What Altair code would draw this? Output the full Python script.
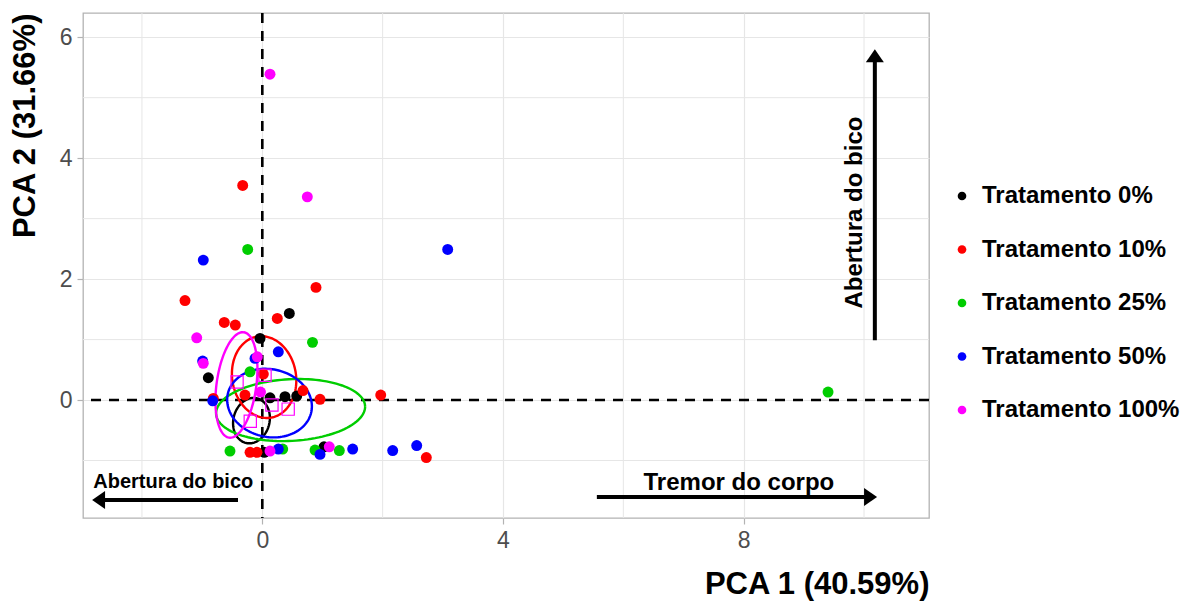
import numpy as np
import pandas as pd
import altair as alt

# Treatment groups and their colours
groups = ["Tratamento 0%", "Tratamento 10%", "Tratamento 25%", "Tratamento 50%", "Tratamento 100%"]
colors = ["#000000", "#FF0000", "#00CD00", "#0000FF", "#FF00FF"]

# Individual scores on the first two principal components
pc1_t0 = [0.449, -0.038, -0.897, 0.128, 0.377, 0.572, 0.033, 1.025]
pc2_t0 = [1.433, 1.020, 0.369, 0.038, 0.055, 0.066, -0.864, -0.772]

pc1_t10 = [-0.326, -1.285, 0.892, 0.249, -0.632, -0.449, 0.017, 0.676, -0.288, -0.814, 0.959, 1.968, -0.204, -0.088, 2.726]
pc2_t10 = [3.549, 1.645, 1.863, 1.350, 1.284, 1.240, 0.430, 0.157, 0.083, 0.028, 0.012, 0.083, -0.864, -0.864, -0.950]

pc1_t25 = [-0.243, 0.834, -0.204, 9.402, -0.537, 0.339, 0.876, 1.280]
pc2_t25 = [2.491, 0.954, 0.468, 0.132, -0.843, -0.810, -0.826, -0.835]

pc1_t50 = [-0.981, 3.081, 0.266, -0.121, -0.991, -0.824, 0.266, 0.959, 1.502, 2.167, 2.566]
pc2_t50 = [2.314, 2.491, 0.798, 0.689, 0.645, -0.012, -0.810, -0.898, -0.810, -0.835, -0.752]

pc1_t100 = [0.128, 0.748, -1.090, -0.083, -0.981, -0.030, 0.128, 1.113]
pc2_t100 = [5.388, 3.360, 1.030, 0.716, 0.607, 0.132, -0.843, -0.772]

# Group centres (hollow squares)
mean_pc1 = [-0.42, 0.045, 0.16, 0.43, -0.20]
mean_pc2 = [0.30, 0.41, -0.08, -0.15, -0.35]

# Confidence ellipses: centre, semi-axes and rotation (degrees)
ell_cx = [-0.18, 0.03, 0.47, 0.12, -0.43]
ell_cy = [-0.34, 0.38, -0.165, -0.05, 0.25]
ell_a = [0.38, 0.68, 1.24, 0.71, 0.88]
ell_b = [0.30, 0.53, 0.51, 0.56, 0.33]
ell_angle = [75, 100, 3, -12, 82]

# Axis ticks and minor grid positions
x_ticks = [0, 4, 8]
y_ticks = [0, 2, 4, 6]
x_minor = [-2, 2, 6, 10]
y_minor = [-1, 1, 3, 5]
x_domain = [-2.98, 11.08]
y_domain = [-1.95, 6.40]

# Direction arrows (shaft start -> tip) and their labels
arrow_x0 = [-0.404, 5.56, 10.18]
arrow_x1 = [-2.679, 10.067, 10.18]
arrow_y0 = [-1.653, -1.603, 0.99]
arrow_y1 = [-1.653, -1.603, 5.653]
arrow_head_angle = [180, 0, 270]

label_text = ["Abertura do bico", "Tremor do corpo", "Abertura do bico"]
label_x = [-2.81, 7.92, 9.97]
label_y = [-1.455, -1.488, 3.10]

FONT = "Liberation Sans"

pcs = [(pc1_t0, pc2_t0), (pc1_t10, pc2_t10), (pc1_t25, pc2_t25), (pc1_t50, pc2_t50), (pc1_t100, pc2_t100)]
rows = []
for g, (xs, ys) in zip(groups, pcs):
    for xv, yv in zip(xs, ys):
        rows.append({"PC1": xv, "PC2": yv, "grupo": g})
points_df = pd.DataFrame(rows)

t = np.linspace(0, 2 * np.pi, 121)
ell_rows = []
for g, col, cx, cy, a, b, ang in zip(groups, colors, ell_cx, ell_cy, ell_a, ell_b, ell_angle):
    th = np.deg2rad(ang)
    ex = cx + a * np.cos(th) * np.cos(t) - b * np.sin(th) * np.sin(t)
    ey = cy + a * np.sin(th) * np.cos(t) + b * np.cos(th) * np.sin(t)
    for i, (xv, yv) in enumerate(zip(ex, ey)):
        ell_rows.append({"PC1": xv, "PC2": yv, "grupo": g, "cor": col, "i": i})
ell_df = pd.DataFrame(ell_rows)

means_df = pd.DataFrame({"PC1": mean_pc1, "PC2": mean_pc2})
arrows_df = pd.DataFrame({"x0": arrow_x0, "x1": arrow_x1, "y0": arrow_y0, "y1": arrow_y1, "ang": arrow_head_angle})

xs = alt.Scale(domain=x_domain, nice=False, zero=False)
ys = alt.Scale(domain=y_domain, nice=False, zero=False)

x_enc = alt.X("PC1:Q", scale=xs, title="PCA 1 (40.59%)",
              axis=alt.Axis(values=x_ticks, titleAnchor="end", format="d"))
y_enc = alt.Y("PC2:Q", scale=ys, title="PCA 2 (31.66%)",
              axis=alt.Axis(values=y_ticks, titleAnchor="end", format="d"))

grid_color = "#e6e6e6"

minor_x = alt.Chart(pd.DataFrame({"v": x_minor})).mark_rule(color=grid_color, strokeWidth=1).encode(
    x=alt.X("v:Q", scale=xs))
minor_y = alt.Chart(pd.DataFrame({"v": y_minor})).mark_rule(color=grid_color, strokeWidth=1).encode(
    y=alt.Y("v:Q", scale=ys))

zero_v = alt.Chart(pd.DataFrame({"v": [0]})).mark_rule(color="black", strokeWidth=2.6, strokeDash=[10, 8]).encode(
    x=alt.X("v:Q", scale=xs))
zero_h = alt.Chart(pd.DataFrame({"v": [0]})).mark_rule(color="black", strokeWidth=2.6, strokeDash=[10, 8]).encode(
    y=alt.Y("v:Q", scale=ys))

ellipses = alt.Chart(ell_df).mark_line(strokeWidth=2.4).encode(
    x=alt.X("PC1:Q", scale=xs),
    y=alt.Y("PC2:Q", scale=ys),
    detail="grupo:N",
    order="i:Q",
    color=alt.Color("cor:N", scale=None),
)

points = alt.Chart(points_df).mark_circle(size=120, opacity=1).encode(
    x=x_enc,
    y=y_enc,
    color=alt.Color("grupo:N", scale=alt.Scale(domain=groups, range=colors),
                    legend=alt.Legend(title=None, orient="none", legendX=867, legendY=171)),
)

means = alt.Chart(means_df).mark_point(shape="square", size=150, filled=False, color="#FF00FF", strokeWidth=1.2, opacity=1).encode(
    x=alt.X("PC1:Q", scale=xs),
    y=alt.Y("PC2:Q", scale=ys),
)

shafts = alt.Chart(arrows_df).mark_rule(color="black", strokeWidth=4).encode(
    x=alt.X("x0:Q", scale=xs), x2="x1:Q",
    y=alt.Y("y0:Q", scale=ys), y2="y1:Q",
)
heads = alt.Chart(arrows_df).mark_point(shape="M1,0 L-0.44,-1 L-0.44,1 Z", size=324, filled=True,
                                        color="black", opacity=1, strokeWidth=0).encode(
    x=alt.X("x1:Q", scale=xs),
    y=alt.Y("y1:Q", scale=ys),
    angle=alt.Angle("ang:Q", scale=None),
)

lbl_df = pd.DataFrame({"txt": label_text, "x": label_x, "y": label_y})
lbl1 = alt.Chart(lbl_df.iloc[[0]]).mark_text(font=FONT, fontWeight="bold", fontSize=20, align="left",
                                           baseline="alphabetic", color="black").encode(
    x=alt.X("x:Q", scale=xs), y=alt.Y("y:Q", scale=ys), text="txt:N")
lbl2 = alt.Chart(lbl_df.iloc[[1]]).mark_text(font=FONT, fontWeight="bold", fontSize=24, align="center",
                                           baseline="alphabetic", color="black").encode(
    x=alt.X("x:Q", scale=xs), y=alt.Y("y:Q", scale=ys), text="txt:N")
lbl3 = alt.Chart(lbl_df.iloc[[2]]).mark_text(font=FONT, fontWeight="bold", fontSize=24, align="center",
                                           baseline="alphabetic", angle=270, color="black").encode(
    x=alt.X("x:Q", scale=xs), y=alt.Y("y:Q", scale=ys), text="txt:N")

chart = alt.layer(
    minor_x, minor_y, zero_v, zero_h, ellipses, points, means, shafts, heads, lbl1, lbl2, lbl3
).properties(
    width=846, height=505,
    padding={"left": 83, "top": 13, "right": 256, "bottom": 83},
    autosize="none",
).configure_view(
    stroke="#b3b3b3", strokeWidth=1.3
).configure_axis(
    labelFont=FONT, labelFontSize=23, labelColor="#4d4d4d", labelPadding=5,
    titleFont=FONT, titleFontSize=31, titleFontWeight="bold", titleColor="black",
    domain=False, tickColor="#b3b3b3", tickSize=6, tickWidth=1.2,
    grid=True, gridColor=grid_color, gridWidth=1.2,
).configure_axisX(
    titlePadding=17,
).configure_axisY(
    titlePadding=18,
).configure_legend(
    labelFont=FONT, labelFontSize=24, labelFontWeight="bold", labelColor="black",
    symbolType="circle", symbolSize=75, rowPadding=29.5, labelOffset=8, padding=0,
    labelLimit=400,
)

chart.save("out.html", embed_options={"renderer": "svg", "actions": False})
